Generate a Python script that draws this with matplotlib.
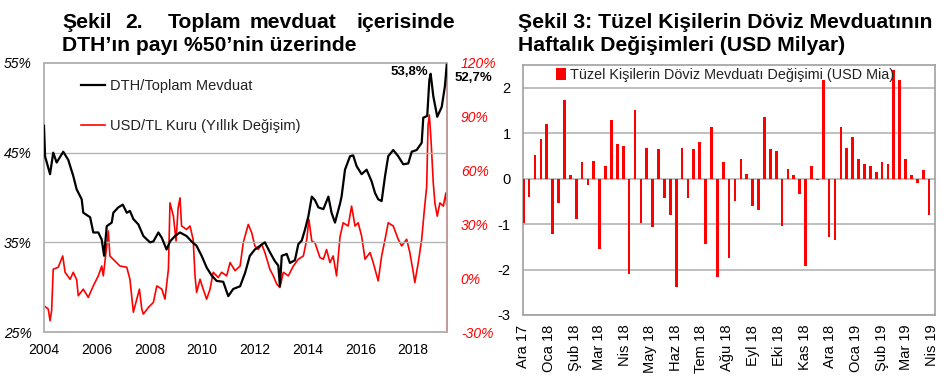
import numpy as np
import pandas as pd
import matplotlib
matplotlib.use("Agg")
import matplotlib.pyplot as plt

plt.rcParams['font.family'] = ['Liberation Sans', 'DejaVu Sans']

# ---------------- Sekil 2 data ----------------
dth_t = [2004.00, 2004.04, 2004.23, 2004.35, 2004.48, 2004.73, 2004.92, 2005.11, 2005.24, 2005.43,
         2005.49, 2005.75, 2005.87, 2006.06, 2006.19, 2006.28, 2006.38, 2006.57, 2006.63, 2006.82,
         2006.99, 2007.14, 2007.26, 2007.39, 2007.58, 2007.77, 2008.02, 2008.15, 2008.34, 2008.47,
         2008.65, 2008.78, 2008.97, 2009.16, 2009.41, 2009.60, 2009.79, 2009.98, 2010.17, 2010.36,
         2010.55, 2010.80, 2010.99, 2011.18, 2011.44, 2011.63, 2011.81, 2012.00, 2012.19, 2012.38,
         2012.57, 2012.76, 2012.89, 2012.95, 2013.02, 2013.21, 2013.33, 2013.52, 2013.65, 2013.78,
         2013.90, 2014.03, 2014.16, 2014.28, 2014.41, 2014.60, 2014.79, 2014.91, 2015.04, 2015.23,
         2015.29, 2015.42, 2015.61, 2015.73, 2015.86, 2016.05, 2016.24, 2016.43, 2016.56, 2016.68,
         2016.81, 2016.94, 2017.06, 2017.25, 2017.44, 2017.63, 2017.82, 2017.95, 2018.14, 2018.33,
         2018.39, 2018.54, 2018.62, 2018.67, 2018.77, 2018.92, 2019.09, 2019.21, 2019.28]
dth_v = [48.0, 44.6, 42.6, 45.0, 43.9, 45.1, 44.2, 42.4, 40.9, 39.8,
         38.3, 37.8, 36.1, 36.1, 35.3, 33.5, 36.8, 37.2, 38.3, 38.9,
         39.2, 38.3, 38.5, 37.6, 37.0, 35.7, 35.0, 35.1, 36.1, 35.5,
         34.2, 35.1, 35.7, 36.1, 35.7, 35.1, 34.6, 33.5, 32.2, 31.3,
         30.7, 30.6, 29.0, 29.8, 30.1, 31.6, 33.5, 34.2, 34.6, 35.0,
         33.9, 32.9, 32.4, 30.1, 33.5, 33.7, 32.7, 33.0, 34.8, 35.2,
         36.4, 37.9, 40.1, 39.7, 38.9, 38.7, 40.1, 38.3, 37.2, 39.3,
         40.1, 43.1, 44.6, 44.7, 43.5, 42.6, 43.1, 41.8, 40.5, 39.8,
         39.6, 42.4, 44.6, 45.3, 44.6, 43.7, 43.8, 45.1, 45.3, 46.1,
         48.9, 49.1, 53.1, 53.8, 51.3, 49.0, 50.1, 52.4, 54.8]

usd_t = [2004.00, 2004.16, 2004.23, 2004.29, 2004.35, 2004.54, 2004.71, 2004.80, 2004.99, 2005.11,
         2005.24, 2005.30, 2005.49, 2005.68, 2005.87, 2006.06, 2006.19, 2006.25, 2006.38, 2006.44,
         2006.50, 2006.69, 2006.88, 2007.14, 2007.26, 2007.39, 2007.52, 2007.62, 2007.71, 2007.77,
         2007.96, 2008.15, 2008.28, 2008.47, 2008.59, 2008.72, 2008.78, 2008.91, 2009.01, 2009.09,
         2009.16, 2009.22, 2009.41, 2009.54, 2009.66, 2009.73, 2009.79, 2009.92, 2010.04, 2010.17,
         2010.30, 2010.42, 2010.61, 2010.74, 2010.93, 2011.06, 2011.25, 2011.44, 2011.56, 2011.75,
         2011.88, 2012.00, 2012.13, 2012.26, 2012.38, 2012.57, 2012.70, 2012.83, 2012.95, 2013.08,
         2013.27, 2013.46, 2013.65, 2013.84, 2013.97, 2014.05, 2014.16, 2014.28, 2014.47, 2014.60,
         2014.72, 2014.85, 2014.97, 2015.10, 2015.23, 2015.35, 2015.54, 2015.67, 2015.80, 2015.92,
         2016.05, 2016.18, 2016.37, 2016.49, 2016.68, 2016.81, 2016.94, 2017.06, 2017.25, 2017.44,
         2017.57, 2017.76, 2017.88, 2018.01, 2018.07, 2018.20, 2018.33, 2018.42, 2018.52, 2018.57,
         2018.62, 2018.68, 2018.77, 2018.83, 2018.92, 2019.02, 2019.15, 2019.25, 2019.28]
usd_v = [-15.4, -17.2, -23.7, -18.0, 5.0, 6.1, 12.4, 3.3, -0.6, 3.3,
         -0.9, -9.8, -6.1, -10.7, -4.3, 1.3, 6.8, 1.3, 18.0, 26.3,
         12.4, 9.6, 6.8, 6.1, -0.6, -19.0, -11.7, -6.1, -17.2, -20.0,
         -16.3, -13.5, -4.3, -6.1, -11.7, 5.0, 42.0, 34.6, 20.7, 39.3,
         44.8, 29.1, 27.2, 29.1, 21.5, 1.3, -7.9, -0.6, -6.1, -11.7,
         -6.1, 3.3, 0.4, 3.3, 1.3, 8.7, 4.2, 6.8, 19.8, 30.0,
         25.4, 18.0, 16.0, 19.0, 14.3, 5.0, 1.3, -3.3, -5.2, 3.3,
         1.3, 6.8, 10.6, 12.4, 21.7, 32.8, 20.7, 19.8, 11.5, 10.6,
         16.0, 8.7, 12.4, 1.3, 23.0, 30.9, 29.1, 40.2, 29.1, 30.9,
         23.5, 10.6, 14.3, 8.7, -1.5, 12.4, 21.7, 30.9, 29.1, 21.7,
         18.0, 21.7, 14.3, 3.3, -2.4, 8.7, 21.7, 36.5, 51.3, 85.0,
         91.0, 78.0, 53.0, 42.0, 34.6, 42.0, 40.2, 47.6, 40.0]

left_ticks = [25, 35, 45, 55]
right_ticks = [-30, 0, 30, 60, 90, 120]
year_ticks = [2004, 2006, 2008, 2010, 2012, 2014, 2016, 2018]

# ---------------- Sekil 3 data ----------------
weekly_change = [-0.98, -0.40, 0.53, 0.88, 1.20, -1.22, -0.53, 1.72, 0.08, -0.89,
                 0.37, -0.13, 0.39, -1.55, 0.27, 1.30, 0.76, 0.72, -2.10, 1.50,
                 -0.97, 0.68, -1.06, 0.65, -0.42, -0.81, -2.39, 0.68, -0.42, 0.65,
                 0.80, -1.44, 1.13, -2.16, 0.37, -1.75, -0.50, 0.44, 0.10, -0.61,
                 -0.69, 1.35, 0.65, 0.60, -1.04, 0.22, 0.08, -0.34, -1.93, 0.27,
                 -0.03, 2.18, -1.28, -1.35, 1.13, 0.67, 0.92, 0.43, 0.33, 0.27,
                 0.15, 0.36, 0.32, 2.38, 2.17, 0.44, 0.08, -0.10, 0.20, -0.81]
first_week = '2017-12-01'
month_labels = ['Ara 17', 'Oca 18', 'Şub 18', 'Mar 18', 'Nis 18', 'May 18', 'Haz 18', 'Tem 18',
                'Ağu 18', 'Eyl 18', 'Eki 18', 'Kas 18', 'Ara 18', 'Oca 19', 'Şub 19', 'Mar 19', 'Nis 19']

grey = '#b4b4b4'
red = '#ff0000'
title_size = 15.2

fig = plt.figure(figsize=(9.51, 3.77), dpi=100)

# ---------------- left chart ----------------
ax = fig.add_axes([44 / 951, 1 - 332 / 377, 403 / 951, 269 / 377])
ax2 = ax.twinx()
l1, = ax.plot(dth_t, dth_v, color='black', lw=1.6, zorder=3)
l2, = ax2.plot(usd_t, usd_v, color=red, lw=1.2, zorder=2)
ax.set_zorder(ax2.get_zorder() + 1)
ax.patch.set_visible(False)

ax.set_xlim(2004, 2019.29)
ax.set_ylim(25, 55)
ax2.set_ylim(-30, 120)
ax.set_xticks(year_ticks)
ax.set_xticklabels([str(y) for y in year_ticks], fontsize=10)
ax.set_yticks(left_ticks)
ax.set_yticklabels([f'{v}%' for v in left_ticks], fontsize=10, style='italic')
ax2.set_yticks(right_ticks)
ax2.set_yticklabels([f'{v}%' for v in right_ticks], fontsize=10, style='italic', color=red)
for a in (ax, ax2):
    a.tick_params(length=0)
    for s in a.spines.values():
        s.set_color(grey)
        s.set_linewidth(1.2)
ax.tick_params(axis='y', pad=9)
ax.tick_params(axis='x', pad=8)
ax2.tick_params(axis='y', pad=10)
ax2.spines['right'].set_color(red)
for g in (35, 45):
    ax.axhline(g, color=grey, lw=1.0, zorder=1)

fig.text(428 / 951, 1 - 72 / 377, '53,8%', fontsize=9.5, fontweight='bold', ha='right', va='center')
fig.text(455 / 951, 1 - 78 / 377, '52,7%', fontsize=9.5, fontweight='bold', ha='left', va='center')

ax.legend([l1, l2], ['DTH/Toplam Mevduat', 'USD/TL Kuru (Yıllık Değişim)'],
          loc='upper left', bbox_to_anchor=(0.06, 0.99), frameon=False, fontsize=10.5,
          handlelength=1.6, handletextpad=0.4, labelspacing=1.8, labelcolor='#222222')

# justified title, word by word
words = [('Şekil', 62), ('2.', 125), ('Toplam', 168), ('mevduat', 250), ('içerisinde', 357)]
for w, px in words:
    fig.text(px / 951, 1 - 28 / 377, w, fontsize=title_size, fontweight='bold', va='baseline')
fig.text(62 / 951, 1 - 51 / 377, 'DTH’ın payı %50’nin üzerinde', fontsize=title_size,
         fontweight='bold', va='baseline')

# ---------------- right chart ----------------
bx = fig.add_axes([523 / 951, 1 - 315 / 377, 412 / 951, 250 / 377])
dates = pd.date_range(first_week, periods=len(weekly_change), freq='7D')
bx.bar(dates, weekly_change, width=3.2, color=red, zorder=3,
       label='Tüzel Kişilerin Döviz Mevduatı Değişimi (USD Mia)')
bx.set_ylim(-3, 2.5)
bx.set_yticks([-3, -2, -1, 0, 1, 2])
bx.set_yticklabels(['-3', '-2', '-1', '0', '1', '2'], fontsize=10.5)
bx.set_xlim(dates[0] - pd.Timedelta(days=0.3), dates[-1] + pd.Timedelta(days=7))
month_ticks = pd.date_range('2017-12-01', periods=len(month_labels), freq='MS')
bx.set_xticks(month_ticks)
bx.set_xticklabels(month_labels, rotation=90, fontsize=10.5)
bx.tick_params(length=0)
bx.tick_params(axis='y', pad=9)
bx.tick_params(axis='x', pad=7)
bx.yaxis.grid(True, color=grey, lw=1.2, zorder=0)
bx.set_axisbelow(True)
for s in bx.spines.values():
    s.set_color('#a0a0a0')
    s.set_linewidth(1.2)
bx.legend(loc='upper center', bbox_to_anchor=(0.49, 1.04), frameon=False, fontsize=10.4,
          handlelength=0.7, handleheight=0.9, handletextpad=0.3, labelcolor='#222222')

fig.text(518 / 951, 1 - 28 / 377, 'Şekil 3: Tüzel Kişilerin Döviz Mevduatının', fontsize=title_size,
         fontweight='bold', va='baseline')
fig.text(518 / 951, 1 - 51 / 377, 'Haftalık Değişimleri (USD Milyar)', fontsize=title_size,
         fontweight='bold', va='baseline')

fig.savefig('out.png', dpi=100)
